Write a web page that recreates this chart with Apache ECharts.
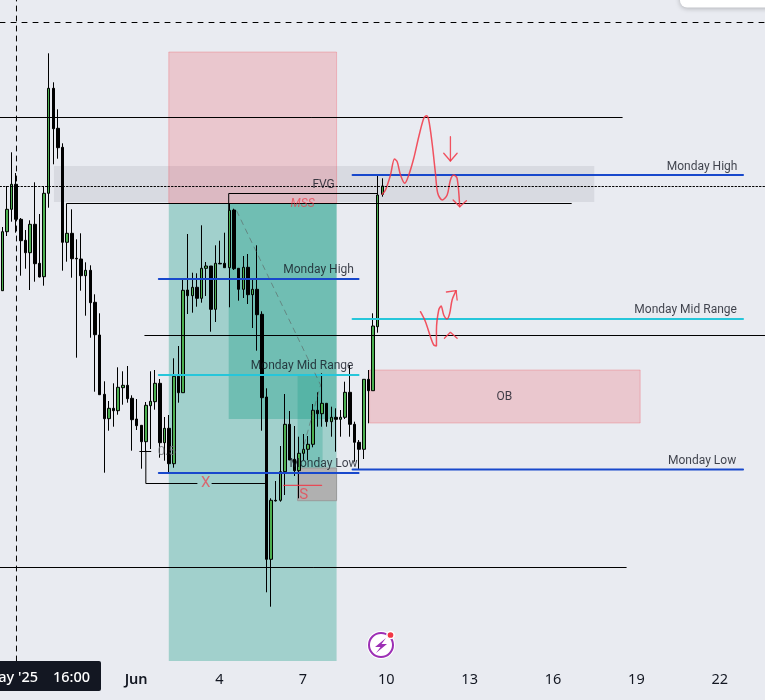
<!DOCTYPE html>
<html>
<head>
<meta charset="utf-8">
<style>html,body{margin:0;padding:0;background:#e9ebf1}#chart{width:765px;height:700px}</style>
<script src="https://cdn.jsdelivr.net/npm/echarts@6/dist/echarts.min.js"></script>
</head>
<body>
<div id="chart"></div>
<script>
const opens = [409.3,468.3,490.7,515.7,480.7,459.7,447.3,475.7,436.7,423.3,
    506.7,611.7,571.7,552.7,457.7,466.7,441.7,441,424.3,429.7,
    397.7,365,305.7,281.3,291.7,289.3,312.3,314.7,301.7,281,
    274.7,258.3,294.3,298.3,316.7,257.3,271.7,236.3,323.7,307.3,
    410,404.3,412.7,401.7,431.7,434,390.7,436.7,436.7,432.3,
    490,431.7,410.7,432.7,405.3,410.7,385.7,303,140.7,199.7,
    199.7,228.3,275.7,240.7,229.3,246.7,250.7,255.7,289.7,286.3,
    296.7,278.3,282.7,280.7,282.7,307.7,275.7,257.7,250.7,320.7,
    309.3,373.3,505.7]
const closes = [468.3,490.7,515.7,480.7,459.3,447.3,475.7,436.3,423,506.7,
    611.7,571.3,552.3,457.7,466.7,441.3,441.1,424.3,429.7,397.3,
    365.3,305.3,281.3,291.7,289.3,312.7,314.7,301.3,280.3,274.3,
    258.3,294.7,298.7,316.7,257.3,271.7,236.3,323.7,307.3,409.7,
    404.3,412.7,401.7,431.7,434,390.7,436.7,436.1,432.3,489.7,
    431.3,410.7,432.7,405.3,410.7,385.3,302.3,140.7,199.7,199.1,
    228.3,275.7,240,229.3,246.7,250.7,255.7,289.7,286.3,296.7,
    278.3,282.7,280.7,282.7,307.7,275.7,257.7,250.7,320.7,309.3,
    374,505,514]
const lows = [409,464,478.3,467.3,424.3,431.3,410,418.3,422.7,414.3,
    492.3,535.7,541.3,429.3,438.3,422.3,342.3,409.3,384.3,362.3,
    308.3,305.3,227.3,269.3,273.3,285.3,295.3,297.3,249.3,270,
    231.3,248,251,290.3,242.3,239.3,226.7,232.3,297.3,307.3,
    386,387.3,393.3,397.3,404,368.3,378,436,432.3,392.7,
    430,399.3,402,396,372,349.3,269.3,107.7,93.3,198.5,
    198.3,205,240,224,201.7,240,240,252.7,273.3,273.3,
    273.3,263.3,248.3,263.3,281,263.3,238.3,230.7,241,276.7,
    309.3,367.3,503.3]
const highs = [473,514,547.7,527,482,470,479.7,517.7,486,514,
    646.7,617.7,590.7,556.7,496.7,490.7,460.7,466.7,437.7,434.7,
    405.7,386.7,318.7,299,316.7,332.7,328.7,334,304.7,301,
    275,298,328.7,330,321,283,285,341.7,354,420.7,
    466,427.3,426.7,474.7,438,434,454.7,459.3,467.3,497,
    491.3,431.7,444,446,420,454.7,388.7,311.7,201.7,219,
    254,306,289,274,263.3,266,264,296,307.7,326.7,
    296.7,293.3,291.7,290,318.3,335,278.3,260,320.7,330,
    386.7,525,521.7]
const barSlots = Array.from({length: 165}, (_, i) => i)

// drawings, x in days from 1 Jun, y in price: [x0, x1, y0, y1]
const priceMin = 39
const priceMax = 700
const dayMin = -4.898
const dayMax = 22.612
const redZones = [[1.175, 7.212, 497, 648], [8.398, 18.135, 277, 330]]
const tealZones = [[1.175, 7.212, 39, 497], [3.331, 7.212, 281, 497]]
const innerZones = [[5.81, 6.709, 232, 325]]
const greyZones = [[-2.957, 16.483, 498, 534]]
const sweepZones = [[5.81, 7.212, 199.3, 232]]

const blackLines = [
    [[dayMin, 582.5], [17.488, 582.5]],
    [[0.313, 364.5], [dayMax, 364.5]],
    [[dayMin, 132.5], [17.632, 132.5]],
    [[-2.479, 496.5], [15.656, 496.5]],
    [[3.331, 490], [3.331, 506.5], [8.685, 506.5]],
    [[0.133, 248.5], [0.528, 248.5]],
    [[0.349, 249], [0.349, 216.5], [2.19, 216.5]],
    [[2.73, 216.5], [4.66, 216.5]]
]
const blueLines = [
    [[7.787, 525], [21.836, 525]],
    [[7.787, 230.5], [21.836, 230.5]],
    [[0.816, 421], [8.002, 421]],
    [[0.816, 227], [8.002, 227]]
]
const cyanLines = [
    [[7.787, 381], [21.836, 381]],
    [[0.816, 325], [8.002, 325]]
]
const redShort = [
    [[5.307, 214.7], [6.673, 214.7]],
    [[11.405, 500], [11.642, 493.3], [11.883, 499.3]],
    [[11.308, 563.3], [11.308, 539]],
    [[11.067, 546.7], [11.308, 539], [11.549, 546.7]],
    [[11.164, 408], [11.513, 409.3], [11.549, 400]],
    [[11.092, 361.7], [11.308, 367.7], [11.549, 361.7]]
]
const redCurves = [
    [[8.854, 505.7], [8.972, 510], [9.152, 525], [9.296, 541], [9.393, 538.3], [9.512, 525],
     [9.666, 516.7], [9.81, 525], [9.989, 541.7], [10.169, 563.3], [10.349, 581.7], [10.446, 584.3],
     [10.528, 580], [10.65, 556.7], [10.769, 526.7], [10.852, 506.7], [11.01, 500], [11.19, 505],
     [11.308, 520], [11.426, 525], [11.549, 521.7], [11.642, 493.3]],
    [[10.23, 388.3], [10.41, 378.3], [10.589, 363.3], [10.708, 355], [10.805, 354], [10.805, 370],
     [10.887, 390], [10.974, 394], [11.067, 385], [11.19, 381], [11.283, 386.7], [11.369, 400], [11.513, 409.3]]
]
const dashedPath = [[3.618, 489], [6.637, 315], [5.99, 250]]
const crossDay = -4.305
const crossPrice = 677.5
const lastPrice = 513.5

const noteTexts = ['FVG', 'Monday High', 'Monday Mid Range', 'Monday Low', 'OB', 'Monday High', 'Monday Mid Range', 'Monday Low']
const noteDays = [6.744, 6.565, 5.972, 6.744, 13.248, 20.363, 19.77, 20.363]
const notePrices = [515.5, 430.5, 334.5, 236.5, 303.5, 533.5, 390.5, 239.5]
const markDays = [2.504, 6.026]
const markPrices = [217, 205]
const markTexts = ['X', 'S']

const tickDays = [0, 3, 6, 9, 12, 15, 18, 21]
const tickLabels = ['Jun', '4', '7', '10', '13', '16', '19', '22']

const FONT = 'Roboto, sans-serif'
const AXIS_FONT = '"Noto Sans", sans-serif'

function zoneSeries(rows, fill, stroke, z) {
    return {
        type: 'custom',
        xAxisIndex: 1,
        z: z,
        silent: true,
        encode: {x: [0, 1], y: [2, 3]},
        data: rows,
        renderItem: function (params, api) {
            const a = api.coord([api.value(0), api.value(3)])
            const b = api.coord([api.value(1), api.value(2)])
            return {
                type: 'rect',
                shape: {x: a[0], y: a[1], width: b[0] - a[0], height: b[1] - a[1]},
                style: {fill: fill, stroke: stroke, lineWidth: stroke ? 1 : 0}
            }
        }
    }
}

function pathSeries(points, color, width, type, smooth) {
    return {
        type: 'line',
        xAxisIndex: 1,
        z: 5,
        silent: true,
        symbol: 'none',
        smooth: smooth || false,
        lineStyle: {color: color, width: width, type: type || 'solid', cap: 'round'},
        data: points
    }
}

function textSeries(texts, days, prices, color, font) {
    return {
        type: 'scatter',
        xAxisIndex: 1,
        z: 6,
        silent: true,
        symbolSize: 0,
        label: Object.assign({show: true, position: 'inside', color: color, fontFamily: FONT,
            formatter: function (p) { return texts[p.dataIndex] }}, font),
        data: days.map((d, i) => [d, prices[i]])
    }
}

const series = [
    zoneSeries(greyZones, 'rgba(120,123,134,0.15)', null, 1),
    zoneSeries(redZones, 'rgba(242,54,69,0.2)', 'rgba(242,54,69,0.25)', 1),
    zoneSeries(tealZones, 'rgba(8,153,129,0.32)', null, 1),
    zoneSeries(innerZones, 'rgba(8,153,129,0.25)', null, 1),
    zoneSeries(sweepZones, '#b0b0b0', '#9a9a9a', 1),
    {
        type: 'candlestick',
        z: 3,
        silent: true,
        barWidth: 3,
        itemStyle: {color: '#4caf50', color0: '#000', borderColor: '#000', borderColor0: '#000', borderColorDoji: '#000', borderWidth: 1},
        data: opens.map((o, i) => [o, closes[i], lows[i], highs[i]])
    }
]
blackLines.forEach(p => series.push(pathSeries(p, '#000', 1)))
blueLines.forEach(p => series.push(pathSeries(p, '#1848cc', 2)))
cyanLines.forEach(p => series.push(pathSeries(p, '#26c6da', 2)))
redShort.forEach(p => series.push(pathSeries(p, 'rgba(242,54,69,0.85)', 1.3)))
redCurves.forEach(p => series.push(pathSeries(p, 'rgba(242,54,69,0.85)', 1.5, 'solid', 0.3)))
series.push(pathSeries(dashedPath, 'rgba(90,90,90,0.55)', 1, [5, 5]))
series.push(pathSeries([[crossDay, priceMin], [crossDay, priceMax]], '#000', 1, [5, 5]))
series.push(pathSeries([[dayMin, crossPrice], [dayMax, crossPrice]], '#000', 1, [5, 6]))
series.push(pathSeries([[dayMin, lastPrice], [dayMax, lastPrice]], '#000', 1, [1.5, 2]))
series.push(textSeries(noteTexts, noteDays, notePrices, '#131722', {fontSize: 12}))
series.push(textSeries(markTexts, markDays, markPrices, 'rgba(242,54,69,0.85)', {fontSize: 15}))
series.push(textSeries(['MSS'], [5.99], [496], 'rgba(242,54,69,0.85)', {fontSize: 12, fontStyle: 'italic'}))
series.push(textSeries(['0.5'], [1.103], [248], '#6f7379', {fontSize: 13}))

const chart = echarts.init(document.getElementById('chart'), null, {renderer: 'canvas'})
chart.setOption({
    animation: false,
    backgroundColor: '#e9ebf1',
    grid: {left: -1, width: 765.6, top: 0, height: 661},
    xAxis: [
        {type: 'category', data: barSlots, show: false},
        {
            type: 'value',
            min: dayMin,
            max: dayMax,
            position: 'bottom',
            splitLine: {show: false},
            axisLine: {show: false},
            axisTick: {show: false},
            axisLabel: {
                customValues: tickDays,
                margin: 11,
                color: '#131722',
                fontSize: 14.5,
                fontFamily: AXIS_FONT,
                formatter: function (v) {
                    const t = tickLabels[tickDays.indexOf(v)]
                    return v === 0 ? '{b|' + t + '}' : t
                },
                rich: {b: {fontWeight: 600, fontSize: 14.5, fontFamily: AXIS_FONT, color: '#131722'}}
            }
        }
    ],
    yAxis: {type: 'value', min: priceMin, max: priceMax, show: false},
    series: series,
    graphic: [
        {type: 'rect', z: 20, shape: {x: 680, y: -12, width: 110, height: 19.5, r: 7},
            style: {fill: '#fff', shadowBlur: 5, shadowColor: 'rgba(0,0,0,0.25)', shadowOffsetY: 1}},
        {type: 'rect', z: 20, shape: {x: -4, y: 661, width: 105, height: 30, r: 2}, style: {fill: '#131722'}},
        {type: 'text', z: 21, style: {x: 38, y: 678, text: "May '25", fill: '#fff', font: '500 14.5px ' + AXIS_FONT, align: 'right', verticalAlign: 'middle'}},
        {type: 'text', z: 21, style: {x: 53, y: 678, text: '16:00', fill: '#fff', font: '500 14.5px ' + AXIS_FONT, align: 'left', verticalAlign: 'middle'}},
        {type: 'circle', z: 20, shape: {cx: 381, cy: 645, r: 14}, style: {fill: '#fff'}},
        {type: 'circle', z: 21, shape: {cx: 381, cy: 645, r: 12}, style: {fill: 'none', stroke: '#9c2fb5', lineWidth: 2}},
        {type: 'polygon', z: 21, shape: {points: [[386, 638], [375, 647], [380.5, 647], [376, 653], [387, 644], [381.5, 644]]}, style: {fill: '#9c2fb5'}},
        {type: 'circle', z: 22, shape: {cx: 390.5, cy: 635, r: 3.6}, style: {fill: '#f23645', stroke: '#fff', lineWidth: 1.5}}
    ]
})
</script>
</body>
</html>
